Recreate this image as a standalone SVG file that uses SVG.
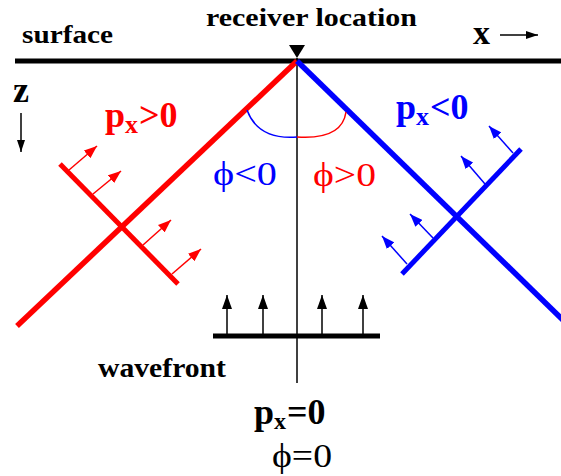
<svg xmlns="http://www.w3.org/2000/svg" width="561" height="476" viewBox="0 0 561 476">
<style>
text{font-family:'Liberation Serif','Times New Roman',Tinos,'Nimbus Roman','DejaVu Serif',serif}
.b{font-weight:bold}
.n{font-weight:normal}
.thin{fill:none;stroke-width:1.5}
</style>
<defs>
<marker id="ar" markerUnits="userSpaceOnUse" markerWidth="14" markerHeight="10" refX="13" refY="5" orient="auto"><path d="M0,0 L13,5 L0,10 z" fill="#ff0000"/></marker>
<marker id="ab" markerUnits="userSpaceOnUse" markerWidth="14" markerHeight="10" refX="13" refY="5" orient="auto"><path d="M0,0 L13,5 L0,10 z" fill="#0000ff"/></marker>
<marker id="ak" markerUnits="userSpaceOnUse" markerWidth="15" markerHeight="10" refX="14" refY="5" orient="auto"><path d="M0,0 L14,5 L0,10 z" fill="#000"/></marker>
<marker id="aks" markerUnits="userSpaceOnUse" markerWidth="12" markerHeight="8" refX="12" refY="4" orient="auto"><path d="M0,0 L12,4 L0,8 z" fill="#000"/></marker>
</defs>

<g id="surface">
<line x1="15" y1="61" x2="561" y2="61" stroke="#000" stroke-width="5"/>
<text class="b" font-family="Liberation Serif, serif" x="22" y="43" font-size="25" textLength="91" lengthAdjust="spacingAndGlyphs">surface</text>
</g>

<g id="receiver">
<polygon points="289,45 305,45 297,58" fill="#000"/>
<text class="b" font-family="Liberation Serif, serif" x="206" y="26" font-size="25" textLength="211" lengthAdjust="spacingAndGlyphs">receiver location</text>
</g>

<g id="axes">
<text class="b" font-family="Liberation Serif, serif" x="473" y="44" font-size="34">x</text>
<line x1="500" y1="35" x2="538" y2="35" stroke="#000" stroke-width="1.5" marker-end="url(#aks)"/>
<text class="b" font-family="Liberation Serif, serif" x="13" y="102" font-size="36">z</text>
<line x1="21" y1="113" x2="21" y2="152" stroke="#000" stroke-width="1.5" marker-end="url(#aks)"/>
</g>

<g id="vertical">
<line x1="297" y1="58" x2="297" y2="383" stroke="#000" stroke-width="1.5"/>
</g>

<g id="red-ray">
<line x1="297" y1="61" x2="17" y2="326" stroke="#ff0000" stroke-width="5.5"/>
<line x1="60" y1="164" x2="178" y2="284" stroke="#ff0000" stroke-width="5"/>
<g stroke="#ff0000" stroke-width="1.5" marker-end="url(#ar)">
<line x1="69" y1="170" x2="97" y2="146"/>
<line x1="93" y1="194" x2="121" y2="171"/>
<line x1="143" y1="245" x2="171" y2="220"/>
<line x1="172" y1="274" x2="201" y2="249"/>
</g>
<text class="b" font-family="Liberation Serif, serif" fill="#ff0000" x="105" y="127" font-size="36">p<tspan font-size="26" dy="6">x</tspan><tspan dy="-6" dx="1">&gt;0</tspan></text>
</g>

<g id="blue-ray">
<line x1="297" y1="61" x2="563" y2="320" stroke="#0000ff" stroke-width="5.5"/>
<line x1="402" y1="274" x2="521" y2="149" stroke="#0000ff" stroke-width="5"/>
<g stroke="#0000ff" stroke-width="1.5" marker-end="url(#ab)">
<line x1="407" y1="264" x2="382" y2="236"/>
<line x1="433" y1="238" x2="410" y2="214"/>
<line x1="485" y1="184" x2="461" y2="156"/>
<line x1="513" y1="153" x2="489" y2="126"/>
</g>
<text class="b" font-family="Liberation Serif, serif" fill="#0000ff" x="396" y="119" font-size="36">p<tspan font-size="26" dy="6">x</tspan><tspan dy="-6" dx="1">&lt;0</tspan></text>
</g>

<g id="angles">
<path d="M247,110 Q258,140 297,137" class="thin" stroke="#0000ff"/>
<path d="M297,137 Q342,140 346,112" class="thin" stroke="#ff0000"/>
<text class="n" font-family="Liberation Serif, serif" fill="#0000ff" x="213" y="185" font-size="34" textLength="64" lengthAdjust="spacingAndGlyphs">ϕ&lt;0</text>
<text class="n" font-family="Liberation Serif, serif" fill="#ff0000" x="313" y="186" font-size="34" textLength="63" lengthAdjust="spacingAndGlyphs">ϕ&gt;0</text>
</g>

<g id="wavefront">
<line x1="213" y1="336" x2="380" y2="336" stroke="#000" stroke-width="5"/>
<g stroke="#000" stroke-width="1.5" marker-end="url(#ak)">
<line x1="227" y1="334" x2="227" y2="295"/>
<line x1="263" y1="334" x2="263" y2="295"/>
<line x1="322" y1="334" x2="322" y2="295"/>
<line x1="363" y1="334" x2="363" y2="295"/>
</g>
<text class="b" font-family="Liberation Serif, serif" x="98" y="377" font-size="28" textLength="128" lengthAdjust="spacingAndGlyphs">wavefront</text>
<text class="b" font-family="Liberation Serif, serif" x="254" y="424" font-size="36">p<tspan font-size="24" dy="5">x</tspan><tspan dy="-5" dx="1">=0</tspan></text>
<text class="n" font-family="Liberation Serif, serif" x="272" y="467" font-size="34" textLength="60" lengthAdjust="spacingAndGlyphs">ϕ=0</text>
</g>
</svg>
